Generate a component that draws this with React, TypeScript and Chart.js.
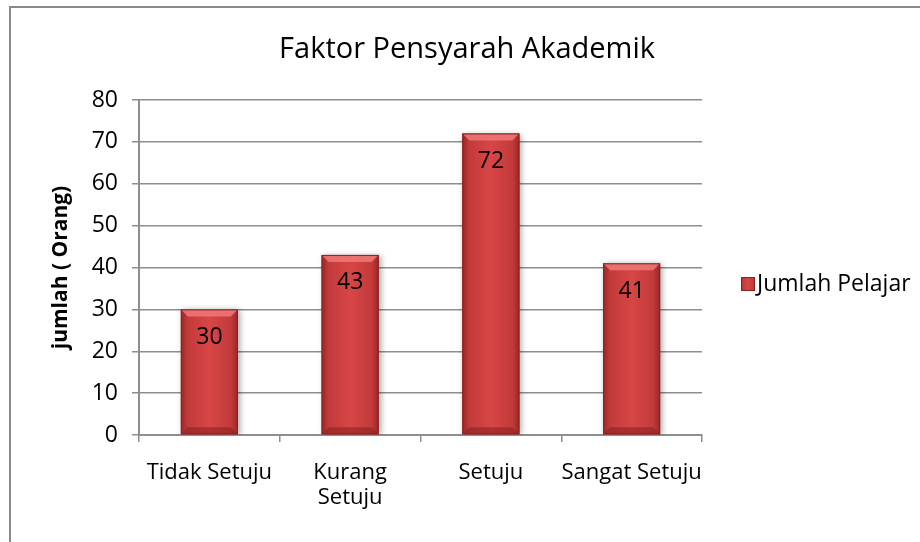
import React, { useEffect, useRef } from "react";
import { Chart, registerables } from "chart.js";

Chart.register(...registerables);

const chartTitle = "Faktor Pensyarah Akademik";
const yAxisTitle = "jumlah ( Orang)";
const seriesName = "Jumlah Pelajar";
const categories: (string | string[])[] = ["Tidak Setuju", ["Kurang", "Setuju"], "Setuju", "Sangat Setuju"];
const values = [30, 43, 72, 41];
const yMin = 0;
const yMax = 80;
const yStep = 10;

const FONT = "'Open Sans', 'DejaVu Sans', sans-serif";
const GRID = "#8e8e8e";

function barGradient(ctx: CanvasRenderingContext2D, x0: number, x1: number) {
  const g = ctx.createLinearGradient(x0, 0, x1, 0);
  g.addColorStop(0, "#9a2626");
  g.addColorStop(0.12, "#c23a3a");
  g.addColorStop(0.5, "#d84646");
  g.addColorStop(0.88, "#c23a3a");
  g.addColorStop(1, "#9a2626");
  return g;
}

const decorPlugin = {
  id: "decor",
  beforeDraw(chart: any) {
    const ctx = chart.ctx as CanvasRenderingContext2D;
    ctx.save();
    ctx.fillStyle = "#ffffff";
    ctx.fillRect(0, 0, chart.width, chart.height);
    ctx.fillStyle = "#8a8a8a";
    ctx.fillRect(9, 6, chart.width - 9, 2);
    ctx.fillRect(9, 6, 2, chart.height - 6);
    ctx.restore();
  },
  beforeDatasetsDraw(chart: any) {
    const ctx = chart.ctx as CanvasRenderingContext2D;
    ctx.save();
    ctx.shadowColor = "rgba(0,0,0,0.35)";
    ctx.shadowBlur = 6;
    ctx.shadowOffsetX = 2;
    ctx.shadowOffsetY = 1;
  },
  afterDatasetsDraw(chart: any) {
    const ctx = chart.ctx as CanvasRenderingContext2D;
    ctx.restore();
    const meta = chart.getDatasetMeta(0);
    ctx.save();
    meta.data.forEach((bar: any, i: number) => {
      const { x, y, base, width } = bar.getProps(["x", "y", "base", "width"], true);
      const x0 = x - width / 2;
      const x1 = x + width / 2;
      const h = base - y;
      ctx.fillStyle = barGradient(ctx, x0, x1);
      ctx.fillRect(x0, y, width, h);
      const bev = Math.min(7, h / 4);
      ctx.fillStyle = "rgba(240,120,120,0.85)";
      ctx.beginPath();
      ctx.moveTo(x0, y);
      ctx.lineTo(x1, y);
      ctx.lineTo(x1 - bev, y + bev);
      ctx.lineTo(x0 + bev, y + bev);
      ctx.closePath();
      ctx.fill();
      ctx.fillStyle = "rgba(140,35,35,0.6)";
      ctx.beginPath();
      ctx.moveTo(x0, base);
      ctx.lineTo(x1, base);
      ctx.lineTo(x1 - bev, base - bev);
      ctx.lineTo(x0 + bev, base - bev);
      ctx.closePath();
      ctx.fill();
      ctx.strokeStyle = "#8a2222";
      ctx.lineWidth = 1;
      ctx.strokeRect(x0 + 0.5, y + 0.5, width - 1, h - 1);
      ctx.fillStyle = "#000";
      ctx.font = `23px ${FONT}`;
      ctx.textAlign = "center";
      ctx.textBaseline = "middle";
      ctx.fillText(String(values[i]), x, y + 28);
    });
    ctx.restore();
  },
  afterDraw(chart: any) {
    const ctx = chart.ctx as CanvasRenderingContext2D;
    const area = chart.chartArea;
    ctx.save();
    ctx.fillStyle = "#000";
    ctx.font = `29px ${FONT}`;
    ctx.textAlign = "center";
    ctx.textBaseline = "middle";
    ctx.fillText(chartTitle, 467, 50);
    ctx.save();
    ctx.translate(61, (area.top + area.bottom) / 2);
    ctx.rotate(-Math.PI / 2);
    ctx.font = `bold 21px ${FONT}`;
    ctx.fillText(yAxisTitle, 0, 0);
    ctx.restore();
    const ly = 284;
    const lx = 741;
    ctx.fillStyle = barGradient(ctx, lx, lx + 14);
    ctx.fillRect(lx, ly - 7, 14, 14);
    ctx.strokeStyle = "#8a2222";
    ctx.lineWidth = 1;
    ctx.strokeRect(lx + 0.5, ly - 6.5, 13, 13);
    ctx.fillStyle = "#000";
    ctx.font = `23px ${FONT}`;
    ctx.textAlign = "left";
    ctx.fillText(seriesName, 757, ly);
    ctx.restore();
  },
};

export default function App() {
  const ref = useRef<HTMLCanvasElement | null>(null);
  useEffect(() => {
    if (!ref.current) return;
    const chart = new Chart(ref.current, {
      type: "bar",
      data: {
        labels: categories,
        datasets: [
          {
            label: seriesName,
            data: values,
            backgroundColor: "#cf4242",
            borderWidth: 0,
            barPercentage: 0.405,
            categoryPercentage: 1,
          },
        ],
      },
      options: {
        responsive: false,
        animation: false,
        devicePixelRatio: 1,
        layout: { padding: { left: 0, top: 100, right: 218, bottom: 0 } },
        plugins: {
          legend: { display: false },
          title: { display: false },
          tooltip: { enabled: false },
        },
        scales: {
          x: {
            offset: true,
            grid: {
              offset: true,
              drawOnChartArea: false,
              drawTicks: true,
              tickLength: 7,
              color: GRID,
              lineWidth: 1.5,
            },
            border: { display: true, color: GRID, width: 2 },
            ticks: {
              color: "#000",
              font: { family: FONT, size: 22, lineHeight: 1.14 },
              padding: 18,
              maxRotation: 0,
              autoSkip: false,
            },
            afterFit: (s: any) => {
              s.height = 107;
            },
          },
          y: {
            min: yMin,
            max: yMax,
            grid: {
              color: GRID,
              lineWidth: 1.5,
              drawTicks: true,
              tickLength: 7,
            },
            border: { display: true, color: GRID, width: 2 },
            ticks: {
              stepSize: yStep,
              color: "#000",
              font: { family: FONT, size: 23 },
              padding: 14,
            },
            afterFit: (s: any) => {
              s.width = 139;
            },
          },
        },
      },
      plugins: [decorPlugin],
    });
    return () => chart.destroy();
  }, []);
  return (
    <canvas
      ref={ref}
      width={920}
      height={542}
      style={{ position: "fixed", left: 0, top: 0, width: 920, height: 542 }}
    />
  );
}
